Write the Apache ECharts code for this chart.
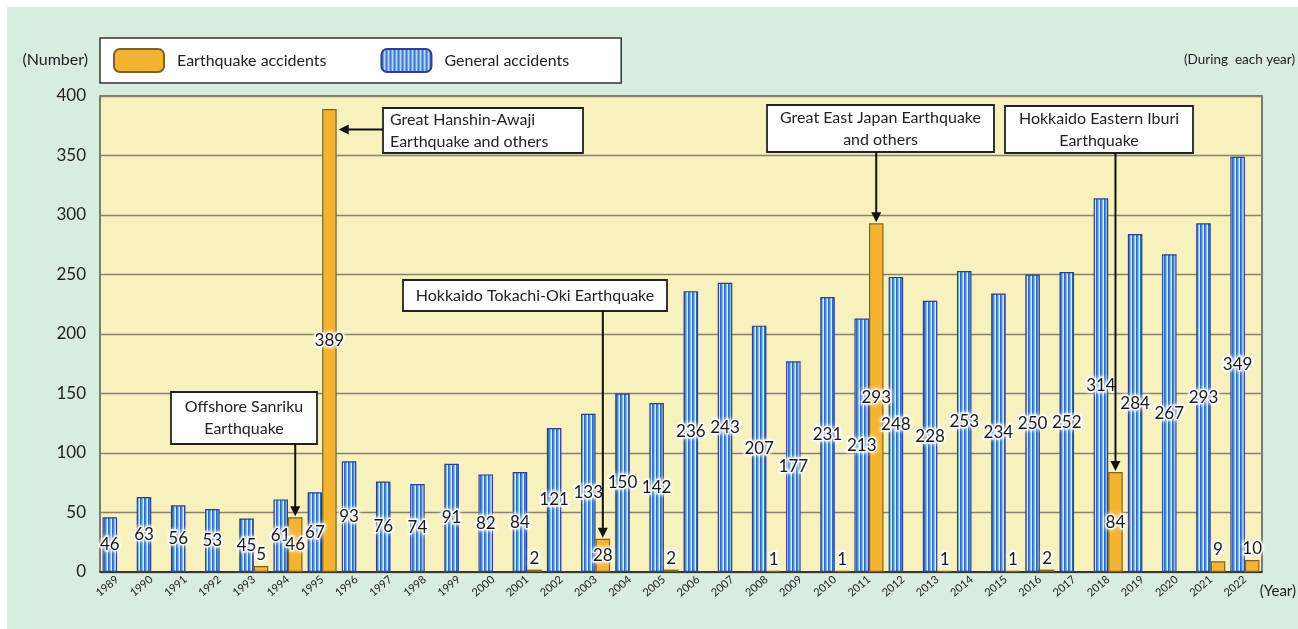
<!DOCTYPE html>
<html style="height: 100%; width: 100%;">
<head>
    <meta charset="utf-8">
    <title>Earthquake and general accidents</title>
    <script src="https://cdn.jsdelivr.net/npm/echarts@6/dist/echarts.min.js"></script>
    <style>
        body, html {
            margin: 0;
            padding: 0;
            width: 100%;
            height: 100%;
            background: #ffffff;
        }
        #main {
            width: 1298px;
            height: 629px;
        }
    </style>
</head>
<body>
<div id="main"></div>
<script type="text/javascript">
    // data
    var years = ['1989', '1990', '1991', '1992', '1993', '1994', '1995', '1996', '1997', '1998',
        '1999', '2000', '2001', '2002', '2003', '2004', '2005', '2006', '2007', '2008',
        '2009', '2010', '2011', '2012', '2013', '2014', '2015', '2016', '2017', '2018',
        '2019', '2020', '2021', '2022'];
    var generalAccidents = [46, 63, 56, 53, 45, 61, 67, 93, 76, 74,
        91, 82, 84, 121, 133, 150, 142, 236, 243, 207,
        177, 231, 213, 248, 228, 253, 234, 250, 252, 314,
        284, 267, 293, 349];
    var earthquakeAccidents = [null, null, null, null, 5, 46, 389, null, null, null,
        null, null, 2, null, 28, null, 2, null, null, 1,
        null, 1, 293, null, 1, null, 1, 2, null, 84,
        null, null, 9, 10];
    var yTicks = [0, 50, 100, 150, 200, 250, 300, 350, 400];

    // callouts: year of the earthquake bar, text, box [x, y, w, h], arrow direction
    var callouts = [
        { year: '1994', lines: ['Offshore Sanriku', 'Earthquake'], box: [171, 392, 146, 52], align: 'center', arrow: 'down' },
        { year: '1995', lines: ['Great Hanshin-Awaji', 'Earthquake and others'], box: [383, 108, 200, 45], align: 'left', arrow: 'left' },
        { year: '2003', lines: ['Hokkaido Tokachi-Oki Earthquake'], box: [403, 280, 264, 31], align: 'center', arrow: 'down' },
        { year: '2011', lines: ['Great East Japan Earthquake', 'and others'], box: [767, 105, 227, 47], align: 'center', arrow: 'down' },
        { year: '2018', lines: ['Hokkaido Eastern Iburi', 'Earthquake'], box: [1005, 106, 188, 47], align: 'center', arrow: 'down' }
    ];

    var FONT = 'Lato, "Open Sans", sans-serif';

    // striped fill for the general accident bars
    var stripe = document.createElement('canvas');
    stripe.width = 4;
    stripe.height = 4;
    var sctx = stripe.getContext('2d');
    var stripeCols = ['#2f6bc0', '#4c88d5', '#8dbfeb', '#d4e9f9'];
    stripeCols.forEach(function (c, i) {
        sctx.fillStyle = c;
        sctx.fillRect(i, 0, 1, 4);
    });

    var labelGlow = {
        color: '#1a1a1a',
        fontSize: 17,
        fontFamily: FONT,
        textBorderColor: 'rgba(255,255,255,0.85)',
        textBorderWidth: 3,
        textShadowColor: '#ffffff',
        textShadowBlur: 4
    };

    var chart = echarts.init(document.getElementById('main'));

    var option = {
        backgroundColor: '#ffffff',
        animation: false,
        textStyle: { fontFamily: FONT },
        legend: {
            left: 100,
            top: 38,
            backgroundColor: '#ffffff',
            borderColor: '#333333',
            borderWidth: 1.5,
            borderRadius: 0,
            padding: [10, 52, 10, 13],
            itemWidth: 50,
            itemHeight: 23,
            itemGap: 54,
            textStyle: { fontSize: 16, color: '#222222', fontFamily: FONT, padding: [0, 0, 0, 8] },
            data: ['Earthquake accidents', 'General accidents']
        },
        grid: {
            left: 100,
            right: 36,
            top: 96,
            bottom: 57,
            show: true,
            backgroundColor: '#f7f1be',
            borderColor: '#555555',
            borderWidth: 1.5
        },
        xAxis: {
            type: 'category',
            data: years,
            axisLine: { lineStyle: { color: '#222222', width: 1.5 } },
            axisTick: { inside: true, length: 4, lineStyle: { color: '#333333' } },
            axisLabel: { interval: 0, rotate: 40, fontSize: 11, color: '#222222', margin: 6, fontFamily: FONT }
        },
        yAxis: {
            type: 'value',
            min: yTicks[0],
            max: yTicks[yTicks.length - 1],
            interval: 50,
            axisLine: { show: false },
            axisTick: { show: false },
            axisLabel: { fontSize: 17, color: '#222222', margin: 14, fontFamily: FONT },
            splitLine: { lineStyle: { color: '#85836e', width: 1.3 } }
        },
        series: [
            {
                name: 'General accidents',
                type: 'bar',
                data: generalAccidents,
                barGap: '0%',
                barCategoryGap: '15%',
                itemStyle: {
                    color: { image: stripe, repeat: 'repeat' },
                    borderColor: '#2c3f93',
                    borderWidth: 1.2
                },
                label: Object.assign({ show: true, position: 'inside' }, labelGlow),
                z: 3
            },
            {
                name: 'Earthquake accidents',
                type: 'bar',
                data: earthquakeAccidents.map(function (v) {
                    if (v == null) return '-';
                    return { value: v, label: { position: v < 20 ? 'top' : 'inside', distance: 3 } };
                }),
                barGap: '0%',
                barCategoryGap: '15%',
                itemStyle: {
                    color: '#f5b333',
                    borderColor: '#7d6426',
                    borderWidth: 1.2
                },
                label: Object.assign({ show: true }, labelGlow),
                z: 3
            }
        ]
    };

    chart.setOption(option);

    // callouts placed from data positions
    var p0 = chart.convertToPixel({ gridIndex: 0 }, [years[0], 0]);
    var p1 = chart.convertToPixel({ gridIndex: 0 }, [years[1], 0]);
    var band = p1[0] - p0[0];
    var barW = band * 0.85 / 2;

    var graphics = [
        { type: 'rect', z: -10, silent: true, shape: { x: 7, y: 7, width: 1291, height: 622 }, style: { fill: '#d8ecdf' } },
        { type: 'text', x: 88, y: 60, style: { text: '(Number)', font: '16px ' + FONT, fill: '#222222', align: 'right', verticalAlign: 'middle' } },
        { type: 'text', x: 1295, y: 60, style: { text: '(During  each year)', font: '13.5px ' + FONT, fill: '#222222', align: 'right', verticalAlign: 'middle' } },
        { type: 'text', x: 1296, y: 591, style: { text: '(Year)', font: '15px ' + FONT, fill: '#222222', align: 'right', verticalAlign: 'middle' } }
    ];

    callouts.forEach(function (c) {
        var i = years.indexOf(c.year);
        var v = earthquakeAccidents[i];
        var pt = chart.convertToPixel({ gridIndex: 0 }, [c.year, v]);
        var cx = pt[0] + barW / 2;
        var b = c.box;
        graphics.push({
            type: 'rect', z: 20,
            shape: { x: b[0], y: b[1], width: b[2], height: b[3] },
            style: { fill: '#ffffff', stroke: '#222222', lineWidth: 1.8 }
        });
        var n = c.lines.length;
        c.lines.forEach(function (ln, k) {
            graphics.push({
                type: 'text', z: 21,
                x: c.align === 'left' ? b[0] + 7 : b[0] + b[2] / 2,
                y: b[1] + b[3] / 2 + (k - (n - 1) / 2) * 22,
                style: { text: ln, font: '16px ' + FONT, fill: '#222222', align: c.align, verticalAlign: 'middle' }
            });
        });
        var x1, y1, x2, y2;
        if (c.arrow === 'down') {
            x1 = cx; y1 = b[1] + b[3];
            x2 = cx; y2 = pt[1] - 1;
        } else {
            x1 = b[0]; y1 = b[1] + b[3] / 2 - 1;
            x2 = cx + barW / 2 + 2; y2 = y1;
        }
        graphics.push({
            type: 'line', z: 20,
            shape: { x1: x1, y1: y1, x2: c.arrow === 'down' ? x2 : x2 + 8, y2: c.arrow === 'down' ? y2 - 8 : y2 },
            style: { stroke: '#111111', lineWidth: 2 }
        });
        var head = c.arrow === 'down'
            ? [[x2 - 5, y2 - 10], [x2 + 5, y2 - 10], [x2, y2]]
            : [[x2 + 10, y2 - 5], [x2 + 10, y2 + 5], [x2, y2]];
        graphics.push({
            type: 'polygon', z: 20,
            shape: { points: head },
            style: { fill: '#111111' }
        });
    });

    chart.setOption({ graphic: graphics });
</script>
</body>
</html>
